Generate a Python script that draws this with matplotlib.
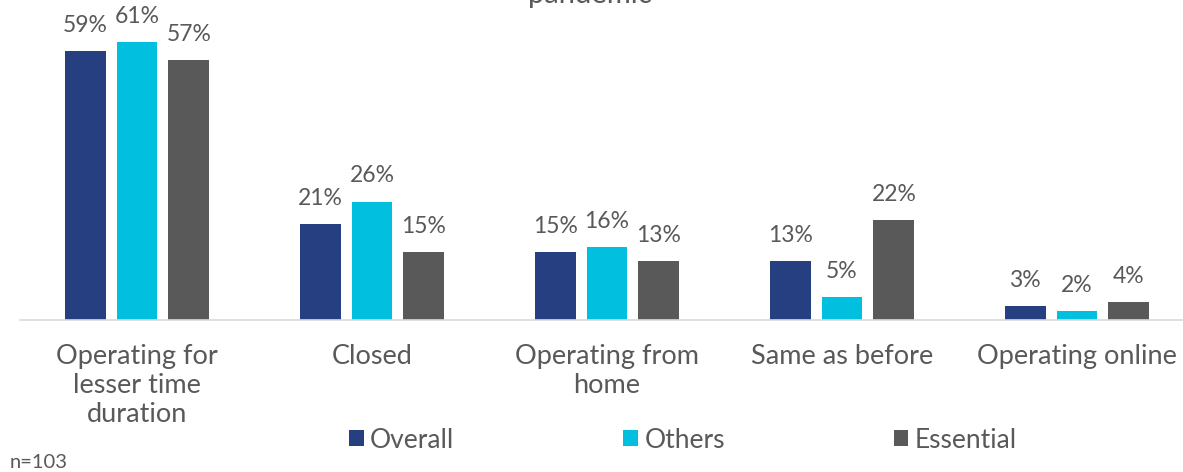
import numpy as np
import matplotlib.pyplot as plt

plt.rcParams['font.family'] = ['Lato', 'DejaVu Sans']

categories = ['Operating for\nlesser time\nduration', 'Closed', 'Operating from\nhome',
              'Same as before', 'Operating online']
overall = [59, 21, 15, 13, 3]
others = [61, 26, 16, 5, 2]
essential = [57, 15, 13, 22, 4]
series_names = ['Overall', 'Others', 'Essential']
colors = ['#263F80', '#00BFDF', '#595959']
grey = '#595959'

fig = plt.figure(figsize=(11.83, 4.72), dpi=100)
ax = fig.add_axes([19.5 / 1183, 152 / 472, 1175 / 1183, 319 / 472])

x = np.arange(len(categories))
w = 0.174
off = 0.221
for i, (vals, name, c) in enumerate(zip([overall, others, essential], series_names, colors)):
    bars = ax.bar(x + (i - 1) * off, vals, w, color=c, label=name)
    for b, v in zip(bars, vals):
        ax.text(b.get_x() + b.get_width() / 2, v + 3.3, f'{v}%', ha='center', va='bottom',
                fontsize=16.5, color=grey)

ax.set_xlim(-0.5, len(categories) - 0.5)
ax.set_ylim(0, 70)
ax.set_xticks(x)
ax.set_xticklabels(categories, fontsize=19.5, color=grey, linespacing=1.2)
ax.tick_params(axis='x', length=0, pad=17)
ax.set_yticks([])
for s in ['top', 'right', 'left']:
    ax.spines[s].set_visible(False)
ax.spines['bottom'].set_color('#D9D9D9')
ax.spines['bottom'].set_linewidth(1.2)

fig.legend(loc='center', bbox_to_anchor=(683 / 1183, 1 - 440 / 472), ncol=3, frameon=False,
           fontsize=19, labelcolor=grey, handlelength=0.55, handleheight=0.55,
           handletextpad=0.25, columnspacing=6.4)

fig.text(590 / 1183, 1 - 3 / 472, 'pandemic', ha='center', va='baseline', fontsize=21, color=grey)
fig.text(10 / 1183, 1 - 462 / 472, 'n=103', ha='left', va='center', fontsize=14.5, color=grey)

fig.savefig('out.png', dpi=100)
